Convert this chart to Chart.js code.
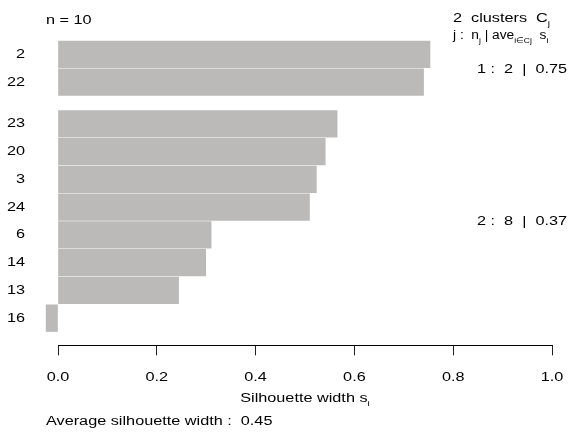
<!DOCTYPE html>
<html>
<head>
<meta charset="utf-8">
<title>Silhouette plot</title>
<script src="https://cdn.jsdelivr.net/npm/chart.js@4.4.1/dist/chart.umd.min.js"></script>
<style>
html, body { margin: 0; padding: 0; background: #fff; }
canvas { display: block; }
</style>
</head>
<body>
<canvas id="sil" width="574" height="444"></canvas>
<script>
// Observations in plotting order: cluster 1 first, each cluster sorted by width
const observations = ['2', '22', '23', '20', '3', '24', '6', '14', '13', '16'];
const clusterOf = [1, 1, 2, 2, 2, 2, 2, 2, 2, 2];
const silWidth = [0.753, 0.740, 0.565, 0.541, 0.523, 0.509, 0.310, 0.299, 0.244, -0.024];

// Per-cluster summary
const clusterIds = [1, 2];
const clusterSize = [2, 8];
const clusterAvg = ['0.75', '0.37'];
const avgWidth = '0.45';

// x-axis ticks
const xTickValues = [0, 0.2, 0.4, 0.6, 0.8, 1.0];

// Row positions: half a bar of extra space between clusters
const rowPos = [];
let pos = 0;
observations.forEach((_, i) => {
  if (i > 0 && clusterOf[i] !== clusterOf[i - 1]) pos += 0.5;
  rowPos.push(pos);
  pos += 1;
});

const FONT_FAMILY = "'Liberation Sans', Arial, Helvetica, sans-serif";
const FONT_SIZE = 12.5;
const STRETCH = 1.3; // wide lettering

const canvas = document.getElementById('sil');
const ctx = canvas.getContext('2d');

// Widen glyphs horizontally around their anchor point
let textStretch = STRETCH;
const baseFillText = CanvasRenderingContext2D.prototype.fillText;
ctx.fillText = function (text, x, y, maxWidth) {
  this.save();
  this.translate(x, y);
  this.scale(textStretch, 1);
  if (maxWidth === undefined) baseFillText.call(this, text, 0, 0);
  else baseFillText.call(this, text, 0, 0, maxWidth / textStretch);
  this.restore();
};

// Draw a run of text pieces, some of them as subscripts
function drawRich(c, x, y, parts, size, stretch) {
  const st = stretch || STRETCH;
  textStretch = st;
  let cx = x;
  parts.forEach(([txt, kind]) => {
    const s = kind === 'sub' ? size * 0.62 : size;
    const dy = kind === 'sub' ? size * 0.28 : 0;
    c.font = s + 'px ' + FONT_FAMILY;
    c.fillText(txt, cx, y + dy);
    cx += c.measureText(txt).width * st;
  });
  textStretch = STRETCH;
  return cx;
}

const annotations = {
  id: 'silAnnotations',
  afterDraw(chart) {
    const c = chart.ctx;
    const xs = chart.scales.x;
    const ys = chart.scales.y;
    c.save();
    c.fillStyle = '#000';
    c.textAlign = 'left';
    c.textBaseline = 'alphabetic';

    drawRich(c, 46, 24, [['n = ' + observations.length]], FONT_SIZE);
    drawRich(c, 453, 22, [[clusterIds.length + '  clusters  C'], ['j', 'sub']], FONT_SIZE);
    drawRich(c, 453, 39, [['j :  n'], ['j', 'sub'], [' | ave'], ['i\u2208Cj', 'sub'], ['  s'], ['i', 'sub']], FONT_SIZE, 1.1);

    // Cluster summaries, centred on each cluster's rows
    clusterIds.forEach((id, k) => {
      const rows = rowPos.filter((_, i) => clusterOf[i] === id);
      const mid = (rows[0] + rows[rows.length - 1]) / 2;
      const yPix = ys.getPixelForValue(mid) + 4.5;
      drawRich(c, 477, yPix, [[id + ' :  ' + clusterSize[k] + '  |  ' + clusterAvg[k]]], FONT_SIZE);
    });

    // Axis title with subscript, centred under the axis
    c.font = FONT_SIZE + 'px ' + FONT_FAMILY;
    const mainW = c.measureText('Silhouette width s').width * STRETCH;
    c.font = (FONT_SIZE * 0.62) + 'px ' + FONT_FAMILY;
    const subW = c.measureText('i').width * STRETCH;
    const cx = xs.getPixelForValue(0.5) - (mainW + subW) / 2;
    drawRich(c, cx, 402, [['Silhouette width s'], ['i', 'sub']], FONT_SIZE);

    drawRich(c, 46, 425, [['Average silhouette width :  ' + avgWidth]], FONT_SIZE);
    c.restore();
  }
};

new Chart(ctx, {
  type: 'bar',
  data: {
    datasets: [{
      data: rowPos.map((r, i) => ({ x: silWidth[i], y: r })),
      backgroundColor: '#bcbab8',
      borderWidth: 0,
      barThickness: 26.7,
      clip: false
    }]
  },
  options: {
    indexAxis: 'y',
    responsive: false,
    animation: false,
    devicePixelRatio: 1,
    layout: { padding: { left: 0, right: 22, top: 40.5, bottom: 0 } },
    plugins: { legend: { display: false }, tooltip: { enabled: false }, title: { display: false } },
    scales: {
      x: {
        type: 'linear',
        position: 'bottom',
        min: 0,
        max: 1,
        offset: false,
        afterBuildTicks: (s) => { s.ticks = xTickValues.map(v => ({ value: v })); },
        afterFit: (s) => { s.height = 98.6; s.paddingLeft = 0; s.paddingRight = 0; },
        ticks: {
          callback: (v) => Number(v).toFixed(1),
          color: '#000',
          font: { family: FONT_FAMILY, size: FONT_SIZE },
          padding: 14.4,
          maxRotation: 0,
          autoSkip: false
        },
        grid: { drawOnChartArea: false, drawTicks: true, tickLength: 10, color: '#222', lineWidth: 1, offset: false },
        border: { display: true, color: '#000', width: 1 }
      },
      y: {
        type: 'linear',
        position: 'left',
        reverse: true,
        offset: false,
        min: -0.5,
        max: rowPos[rowPos.length - 1] + 0.98,
        afterBuildTicks: (s) => { s.ticks = rowPos.map(v => ({ value: v })); },
        afterFit: (s) => { s.width = 58; s.paddingTop = 0; s.paddingBottom = 0; },
        ticks: {
          callback: (v) => observations[rowPos.indexOf(v)],
          color: '#000',
          font: { family: FONT_FAMILY, size: FONT_SIZE },
          padding: 33,
          autoSkip: false
        },
        grid: { display: false, drawTicks: false, offset: false },
        border: { display: false }
      }
    }
  },
  plugins: [annotations]
});
</script>
</body>
</html>
